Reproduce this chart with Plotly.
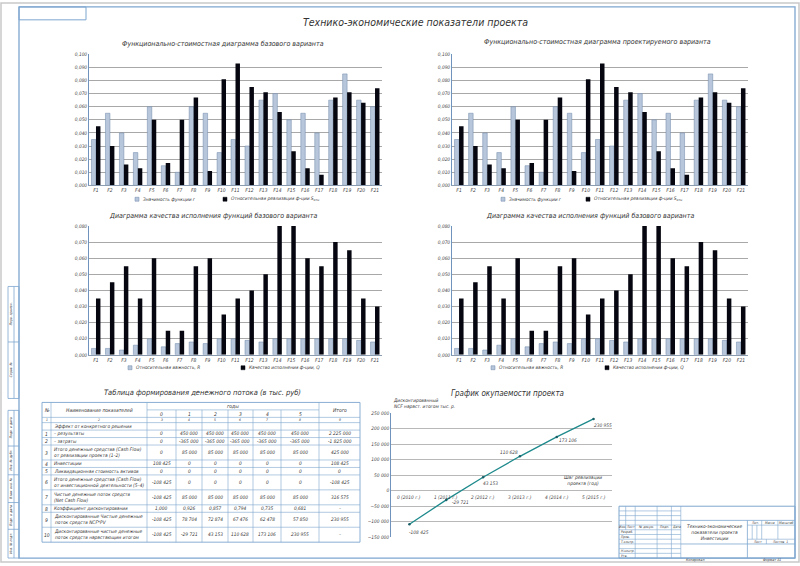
import plotly.graph_objects as go

W, H = 800, 566
FONT = "Liberation Sans Narrow, DejaVu Sans Condensed, Liberation Sans, DejaVu Sans, sans-serif"
TXT = "#333333"
FRAME = "#7ea6cf"
GREY = "#b7c6da"
GREY_EDGE = "#6d86a8"
DARK = "#05060f"
TEAL = "#1f8a8c"

# ---- data -------------------------------------------------------------
functions = ["F1", "F2", "F3", "F4", "F5", "F6", "F7", "F8", "F9", "F10", "F11",
             "F12", "F13", "F14", "F15", "F16", "F17", "F18", "F19", "F20", "F21"]

# Значимость функции r
significance_r = [0.035, 0.055, 0.040, 0.025, 0.060, 0.015, 0.010, 0.060, 0.055, 0.025, 0.035,
                  0.030, 0.065, 0.070, 0.050, 0.055, 0.040, 0.065, 0.085, 0.065, 0.060]
# Относительная реализация ф-ции S отн
relative_cost_s = [0.045, 0.030, 0.016, 0.013, 0.050, 0.017, 0.050, 0.067, 0.011, 0.081, 0.093,
                   0.075, 0.071, 0.056, 0.026, 0.013, 0.008, 0.067, 0.071, 0.063, 0.074]
# Относительная важность R
importance_R = [0.004, 0.004, 0.003, 0.006, 0.010, 0.005, 0.007, 0.008, 0.007, 0.010, 0.010,
                0.009, 0.008, 0.010, 0.010, 0.010, 0.010, 0.010, 0.010, 0.009, 0.008]
# Качество исполнения ф-ции Q
quality_Q = [0.035, 0.045, 0.055, 0.035, 0.060, 0.015, 0.015, 0.055, 0.060, 0.025, 0.035,
             0.040, 0.050, 0.080, 0.080, 0.060, 0.055, 0.070, 0.065, 0.035, 0.030]

steps = ["0", "1", "2", "3", "4", "5"]
years = ["2010", "2011", "2012", "2013", "2014", "2015"]

# cash flow table (years 0..5, total)
results = [0, 450000, 450000, 450000, 450000, 450000, 2225000]
costs = [0, -365000, -365000, -365000, -365000, -365000, -1825000]
cash_flow_ops = [0, 85000, 85000, 85000, 85000, 85000, 425000]
investments = [108425, 0, 0, 0, 0, 0, 108425]
liquidation = [0, 0, 0, 0, 0, 0, 0]
cash_flow_inv = [-108425, 0, 0, 0, 0, 0, -108425]
net_cash_flow = [-108425, 85000, 85000, 85000, 85000, 85000, 316575]
discount_factor = [1.000, 0.926, 0.857, 0.794, 0.735, 0.681, None]
discounted_ncf = [-108425, 78704, 72874, 67476, 62478, 57850, 230955]
cumulative_ncf = [-108425, -29721, 43153, 110628, 173106, 230955, None]

row_names = [
    "Эффект от конкретного решения",
    "– результаты",
    "– затраты",
    "Итого денежные средства (Cash Flow)<br>от реализации проекта (1–2)",
    "Инвестиции",
    "Ликвидационная стоимость активов",
    "Итого денежные средства (Cash Flow)<br>от инвестиционной деятельности (5–4)",
    "Чистые денежные поток средств<br>(Net Cash Flow)",
    "Коэффициент дисконтирования",
    "Дисконтированные Чистые денежные<br>поток средств NCF*PV",
    "Дисконтированные чистые денежные<br>поток средств нарастающим итогом",
]
row_values = [None, results, costs, cash_flow_ops, investments, liquidation, cash_flow_inv,
              net_cash_flow, discount_factor, discounted_ncf, cumulative_ncf]

# ---- helpers ------------------------------------------------------------
shapes = []
annotations = []


def px(x):
    return x / W


def py(y):
    return 1 - y / H


def text(x, y, s, size=5, anchor="center", angle=0, color=TXT, yanchor="middle"):
    annotations.append(dict(x=px(x), y=py(y), xref="paper", yref="paper", text=s,
                            showarrow=False, xanchor=anchor, yanchor=yanchor, textangle=angle,
                            borderpad=0, align="left" if anchor == "left" else "center",
                            font=dict(family=FONT, size=size, color=color, style="italic")))


def line(x0, y0, x1, y1, color=FRAME, width=0.8):
    shapes.append(dict(type="line", xref="paper", yref="paper", x0=px(x0), y0=py(y0),
                       x1=px(x1), y1=py(y1), line=dict(color=color, width=width)))


def rect(x0, y0, x1, y1, color=FRAME, width=0.8, fill="rgba(0,0,0,0)"):
    shapes.append(dict(type="rect", xref="paper", yref="paper", x0=px(x0), y0=py(y0),
                       x1=px(x1), y1=py(y1), line=dict(color=color, width=width), fillcolor=fill))


def fmt(v):
    if v is None:
        return "–"
    if isinstance(v, float):
        return f"{v:.3f}".replace(".", ",")
    return f"{v:,}".replace(",", " ")


# ---- sheet frame ------------------------------------------------------------
rect(1, 1, 799, 565, color="#c9c9c9", width=1.5)
rect(19, 5, 795, 561, width=1.3)
rect(19, 5, 86, 18, width=1.0)

# left side boxes
for top, bot, labels in [(287, 400, ["Перв. примен.", "Справ. №"]),
                         (412, 561, ["Подп. и дата", "Инв. № дубл.", "Взам. инв. №",
                                     "Подп. и дата", "Инв. № подл."])]:
    rect(8, top, 19, bot)
    line(14, top, 14, bot)
    edges = [top, 343, bot] if len(labels) == 2 else [412, 448, 477, 505, 532, 561]
    for i, lab in enumerate(labels):
        if i > 0:
            line(8, edges[i], 19, edges[i])
        text(11, (edges[i] + edges[i + 1]) / 2, lab, size=3.4, angle=-90)

# title block
sx0, sy0, sx1, sy1 = 619, 508.7, 795, 561
rect(sx0, sy0, sx1, sy1, width=1.0)
rw = (sy1 - sy0) / 11
col_x = [619, 625.7, 635.2, 657.1, 671.4, 680.8]
for i in range(1, 11):
    line(sx0, sy0 + i * rw, col_x[-1], sy0 + i * rw, width=0.6)
line(col_x[1], sy0, col_x[1], sy0 + 5 * rw, width=0.6)
for cx in col_x[2:]:
    line(cx, sy0, cx, sy1, width=0.6)
for lab, c0, c1 in [("Изм.", 0, 1), ("Лист", 1, 2), ("№ докум.", 2, 3), ("Подп.", 3, 4), ("Дата", 4, 5)]:
    text((col_x[c0] + col_x[c1]) / 2, sy0 + 4.5 * rw, lab, size=3.4)
for r, lab in [(5, "Разраб."), (6, "Пров."), (7, "Т.контр."), (9, "Н.контр."), (10, "Утв.")]:
    text(col_x[0] + 0.5, sy0 + (r + 0.5) * rw, lab, size=3.4, anchor="left")
line(680.8, 523, 795, 523, width=0.8)
line(680.8, 546.8, 795, 546.8, width=0.8)
line(747.4, 523, 747.4, 561, width=0.8)
line(747.4, 527.8, 795, 527.8, width=0.6)
line(747.4, 542, 795, 542, width=0.6)
for cx in [761.7, 777.9]:
    line(cx, 523, cx, 542, width=0.6)
for cx in [752.2, 756.9]:
    line(cx, 527.8, cx, 542, width=0.6)
line(766.4, 542, 766.4, 546.8, width=0.6)
text(714, 535, "Технико-экономические<br>показатели проекта<br>Инвестиции", size=4.8)
text(754.5, 525.4, "Лит.", size=3.4)
text(769.8, 525.4, "Масса", size=3.4)
text(786.4, 525.4, "Масштаб", size=3.4)
text(757, 544.4, "Лист", size=3.4)
text(780, 544.4, "Листов  1", size=3.4)
text(695, 563.4, "Копировал", size=3.6)
text(772, 563.4, "Формат А1", size=3.6)

# main title
text(415, 20, "Технико-экономические показатели проекта", size=10.5)

# ---- bar charts ------------------------------------------------------------
charts = [
    dict(a=significance_r, b=relative_cost_s, ymax=0.1,
         title="Функционально-стоимостная диаграмма базового варианта",
         la="Значимость функции r", lb="Относительная реализация ф-ции S<sub>отн</sub>",
         box=(89, 382, 52.7, 185), tx=223, ty=42, lx=(137, 225), ly=199),
    dict(a=significance_r, b=relative_cost_s, ymax=0.1,
         title="Функционально-стоимостная диаграмма проектируемого варианта",
         la="Значимость функции r", lb="Относительная реализация ф-ции S<sub>отн</sub>",
         box=(452, 748, 52.7, 185), tx=597, ty=40, lx=(503, 588), ly=199),
    dict(a=importance_R, b=quality_Q, ymax=0.08,
         title="Диаграмма качества исполнения функций базового варианта",
         la="Относительная важность, R", lb="Качество исполнения ф-ции, Q",
         box=(89, 382, 226, 356), tx=213, ty=216, lx=(130, 243), ly=369),
    dict(a=importance_R, b=quality_Q, ymax=0.08,
         title="Диаграмма качества исполнения функций базового варианта",
         la="Относительная важность, R", lb="Качество исполнения ф-ции, Q",
         box=(452, 748, 226, 356), tx=590, ty=216, lx=(493, 607), ly=369),
]

fig = go.Figure()
layout_axes = {}
for i, ch in enumerate(charts, start=1):
    sfx = "" if i == 1 else str(i)
    xa, ya = "x" + sfx, "y" + sfx
    fig.add_trace(go.Bar(x=functions, y=ch["a"], xaxis=xa, yaxis=ya, showlegend=False,
                         marker=dict(color=GREY, line=dict(color=GREY_EDGE, width=0.5))))
    fig.add_trace(go.Bar(x=functions, y=ch["b"], xaxis=xa, yaxis=ya, showlegend=False,
                         marker=dict(color=DARK, line=dict(width=0))))
    x0, x1, y0, y1 = ch["box"]
    layout_axes["xaxis" + sfx] = dict(domain=[px(x0), px(x1)], anchor=ya, type="category",
                                      showline=True, linecolor="#8c9cb0", linewidth=0.8,
                                      showgrid=False, ticks="", tickangle=0,
                                      tickfont=dict(family=FONT, size=5, color="#444", style="italic"))
    layout_axes["yaxis" + sfx] = dict(domain=[py(y1), py(y0)], anchor=xa, range=[0, ch["ymax"]],
                                      dtick=0.01, tickformat=".3f", showline=True,
                                      linecolor="#6f93bd", linewidth=0.8, gridcolor="#a8a8a8",
                                      gridwidth=0.5, zeroline=False, ticks="",
                                      tickfont=dict(family=FONT, size=4.8, color="#444", style="italic"))
    text(ch["tx"], ch["ty"], ch["title"], size=7)
    gx, bx = ch["lx"]
    rect(gx - 2, ch["ly"] - 2, gx + 2, ch["ly"] + 2, color=GREY_EDGE, width=0.5, fill=GREY)
    rect(bx - 2, ch["ly"] - 2, bx + 2, ch["ly"] + 2, color=DARK, width=0.5, fill=DARK)
    text(gx + 5, ch["ly"], ch["la"], size=4.8, anchor="left")
    text(bx + 5, ch["ly"], ch["lb"], size=4.8, anchor="left")

# ---- payback line chart ------------------------------------------------------
step_labels = [f"{s} ({y} г.)" for s, y in zip(steps, years)]
npv_values = cumulative_ncf[:6]
fig.add_trace(go.Scatter(x=step_labels, y=npv_values, mode="lines+markers", xaxis="x5",
                         yaxis="y5", showlegend=False, line=dict(color=TEAL, width=1.3),
                         marker=dict(size=2.5, color="#1b5f66")))
layout_axes["xaxis5"] = dict(domain=[px(391), px(612)], anchor="y5", type="category",
                             range=[-0.5, 5.5], showticklabels=False, showgrid=False,
                             showline=False, zeroline=False)
layout_axes["yaxis5"] = dict(domain=[py(540), py(414.7)], anchor="x5", range=[-150000, 250000],
                             dtick=50000, tickformat=",d", showline=True, linecolor="#6f93bd",
                             linewidth=0.8, gridcolor="#b8b8b8", gridwidth=0.5, zeroline=False,
                             ticks="", tickfont=dict(family=FONT, size=4.8, color="#444", style="italic"))

for lab in step_labels:
    annotations.append(dict(x=lab, y=0, xref="x5", yref="y5", text=lab, showarrow=False,
                            yanchor="top", yshift=-3, borderpad=0,
                            font=dict(family=FONT, size=4.8, color="#444", style="italic")))
label_shift = [(10, -8), (14, -3), (7, -6), (-11, 4), (11, -4), (9, -7)]
for lab, v, (dx, dy) in zip(step_labels, npv_values, label_shift):
    annotations.append(dict(x=lab, y=v, xref="x5", yref="y5", text=fmt(v), showarrow=False,
                            xshift=dx, yshift=dy, borderpad=0,
                            font=dict(family=FONT, size=4.8, color="#444", style="italic")))
text(507, 395, "График окупаемости проекта", size=8)
text(392, 405.5, "Дисконтированный<br>NCF нараст. итогом тыс. р.", size=4.8, anchor="left")
text(583, 483, "Шаг реализации<br>проекта (год)", size=4.8)

# ---- cash flow table -----------------------------------------------------------
text(203, 394, "Таблица формирования денежного потока (в тыс. руб)", size=7.5)
col_edges = [42, 51, 147, 176, 202, 228, 253, 281, 319, 360]
row_units = [1, 1, 0.7, 1, 1, 1, 2, 1, 1, 2, 2, 1, 2, 2]
t_top, t_bot = 404, 545
unit = (t_bot - t_top) / sum(row_units)
row_y = [t_top]
for u in row_units:
    row_y.append(row_y[-1] + u * unit)

rect(col_edges[0], t_top, col_edges[-1], t_bot, width=0.9)
line(col_edges[2], row_y[1], col_edges[8], row_y[1], width=0.6)
for yy in row_y[2:-1]:
    line(col_edges[0], yy, col_edges[-1], yy, width=0.6)
for j, cx in enumerate(col_edges[1:-1], start=1):
    start = row_y[1] if 3 <= j <= 7 else t_top
    line(cx, start, cx, t_bot, width=0.6)

mid = lambda a, b: (a + b) / 2
text(mid(col_edges[0], col_edges[1]), mid(row_y[0], row_y[2]), "№", size=5)
text(mid(col_edges[1], col_edges[2]), mid(row_y[0], row_y[2]), "Наименование показателей", size=5)
text(mid(col_edges[2], col_edges[8]), mid(row_y[0], row_y[1]), "годы", size=5)
text(mid(col_edges[8], col_edges[9]), mid(row_y[0], row_y[2]), "Итого", size=5)
for k, s in enumerate(steps):
    text(mid(col_edges[2 + k], col_edges[3 + k]), mid(row_y[1], row_y[2]), s, size=5)
for k in range(9):
    text(mid(col_edges[k], col_edges[k + 1]), mid(row_y[2], row_y[3]), str(k + 1), size=3.4)

for r, (name, vals) in enumerate(zip(row_names, row_values)):
    yc = mid(row_y[3 + r], row_y[4 + r])
    if r > 0:
        text(mid(col_edges[0], col_edges[1]), yc, str(r), size=5)
    text(col_edges[1] + 1.5, yc, name, size=4.8, anchor="left")
    if vals is None:
        continue
    for k, v in enumerate(vals):
        text(mid(col_edges[2 + k], col_edges[3 + k]), yc, fmt(v), size=4.8)

fig.update_layout(
    width=W, height=H, margin=dict(l=0, r=0, t=0, b=0),
    paper_bgcolor="white", plot_bgcolor="white",
    font=dict(family=FONT, color=TXT, style="italic"),
    separators=", ", barmode="group", bargap=0.36, bargroupgap=0,
    shapes=shapes, annotations=annotations, **layout_axes,
)

# the page body has a default margin; drop it so the sheet sits at the window corner
fig.write_html("out.html", config={"displayModeBar": False},
               post_script="document.body.style.margin='0px';")
